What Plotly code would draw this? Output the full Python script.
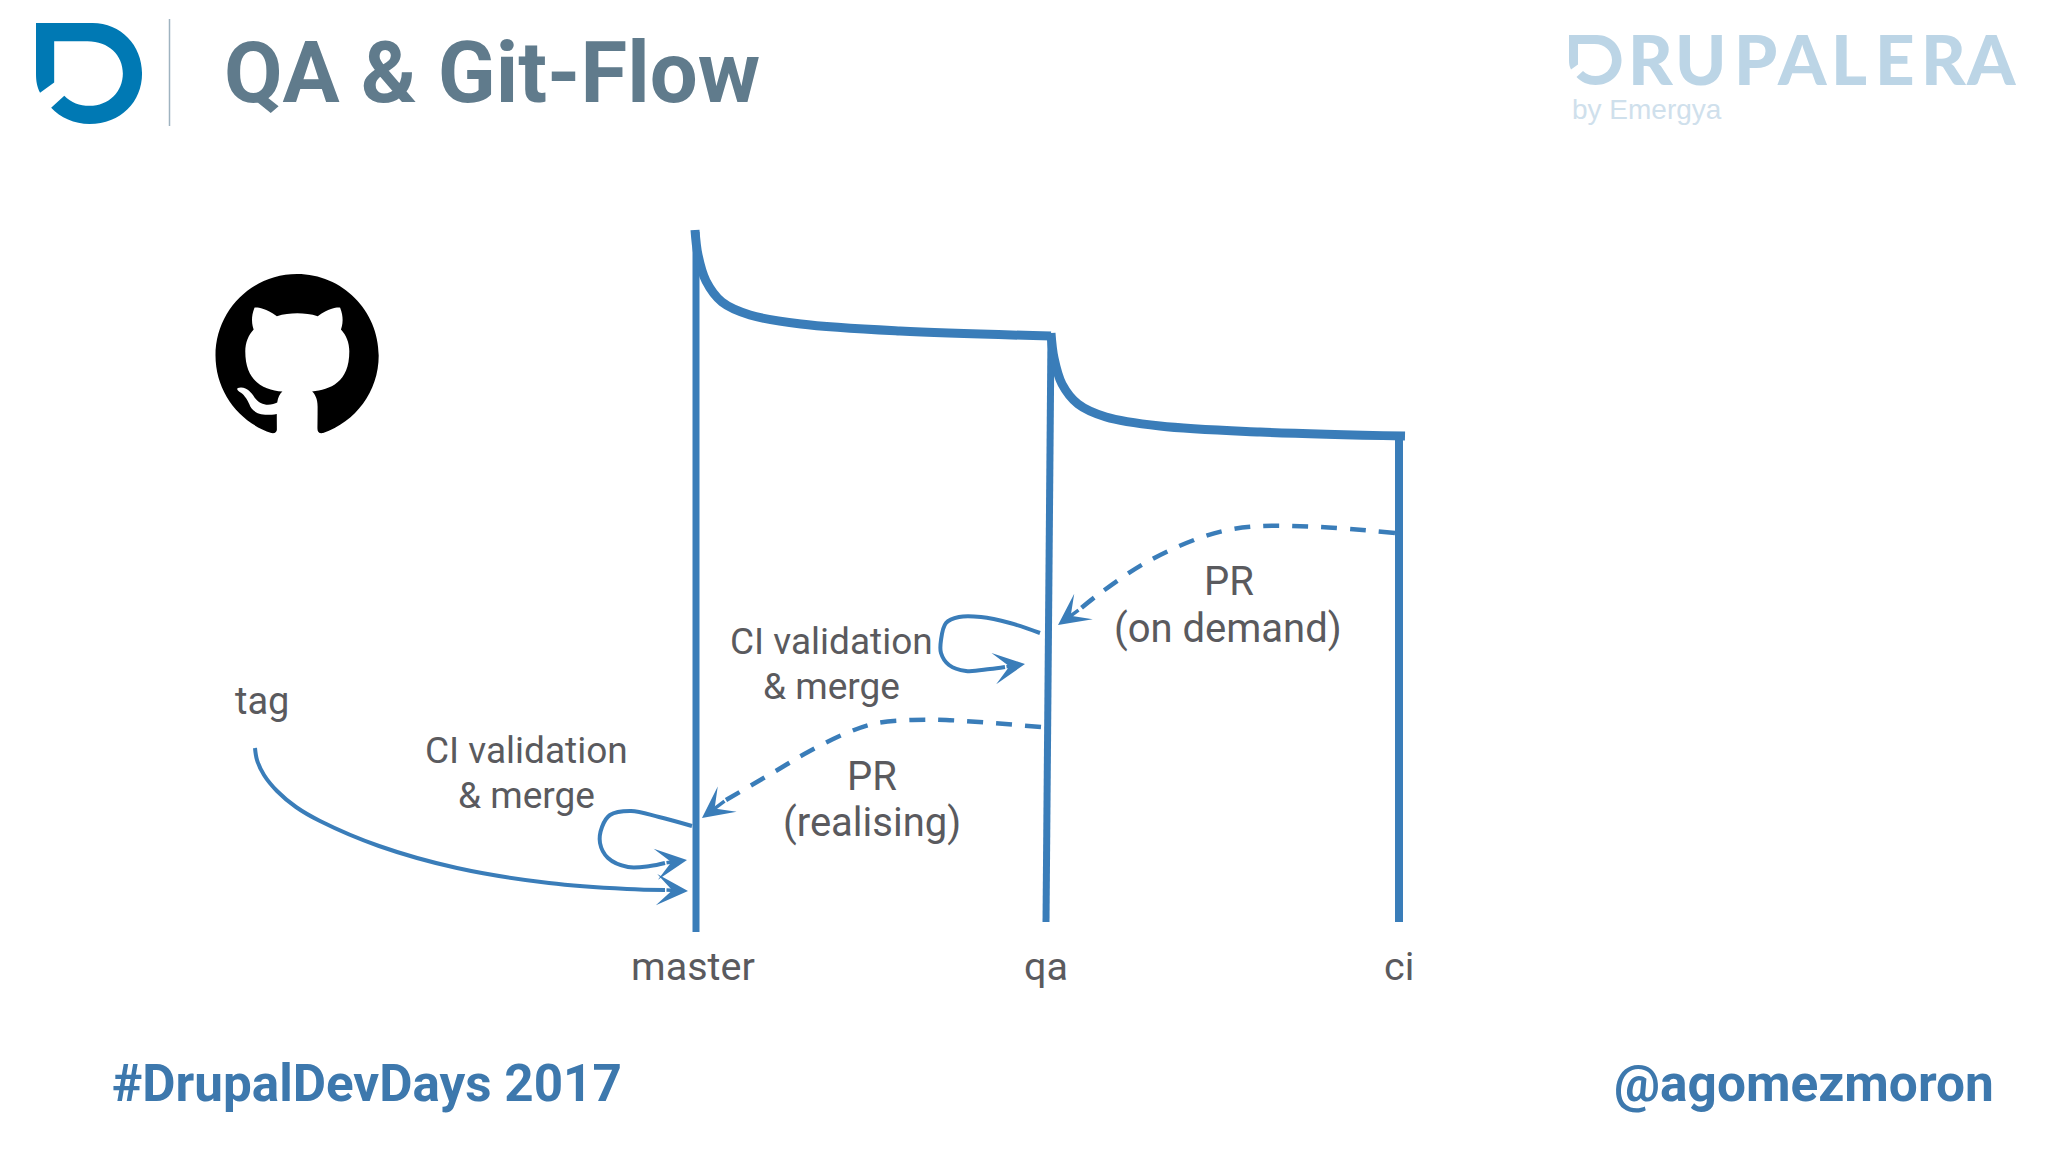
import re
import plotly.graph_objects as go

BLUE = '#3a7db9'
GREY = '#5a5a5e'

# branch lines (pixels of the slide)
master_x = [696, 696]
master_y = [232, 932]
qa_x = [1051, 1046]
qa_y = [333, 922]
ci_x = [1399, 1399]
ci_y = [435, 922]

# curves from one branch to the next
master_qa_x = [695, 698, 706, 722, 750, 801, 900, 1051]
master_qa_y = [230, 255, 281, 302, 315, 324, 331, 336]
qa_ci_x = [1051, 1054, 1062, 1078, 1106, 1160, 1260, 1405]
qa_ci_y = [333, 358, 384, 404, 417, 426, 432, 436]

# arrows, the last point is the tip
pr_demand_x = [1395, 1320, 1262, 1228, 1194, 1145, 1099, 1080, 1058]
pr_demand_y = [533, 527, 526, 530, 540, 563, 594, 609, 625]
pr_real_x = [1041, 946, 912, 877, 849, 808, 774, 726, 702]
pr_real_y = [727, 720, 720, 723, 732, 752, 772, 800, 818]
loop_qa_x = [1040, 1010, 981, 959, 946, 941, 941, 949, 966, 990, 1005, 1025]
loop_qa_y = [633, 623, 617, 617, 623, 640, 653, 665, 671, 669, 667, 664]
loop_master_x = [692, 659, 631, 610, 602, 600, 608, 628, 650, 665, 687]
loop_master_y = [826, 817, 811, 815, 827, 843, 858, 867, 866, 863, 860]
tag_x = [255, 257, 264, 277, 296, 320, 379, 457, 549, 627, 665, 688]
tag_y = [748, 760, 775, 791, 807, 821, 846, 868, 883, 889, 890, 891]

# labels
label_text = ['tag', 'master', 'qa', 'ci', 'CI validation', '& merge', 'CI validation', '& merge',
              'PR', '(on demand)', 'PR', '(realising)']
label_x = [262, 693, 1046, 1399, 526, 526, 831, 831, 1229, 1228, 872, 872]
label_y = [701, 966, 966, 966, 750, 795, 641, 686, 581, 628, 776, 822]
label_size = [38, 39.5, 39.5, 39.5, 37, 37, 37, 37, 40, 40, 40, 40]

# DRUPALERA letters next to the small D
brand_letters = ['R', 'U', 'P', 'A', 'L', 'E', 'R', 'A']
brand_x = [1651, 1700, 1755, 1802, 1849, 1895, 1944, 1991]

d_logo = ('M0 0L56 0C84 0 105 22 105 50C105 78 84 100 53 100C38 100 24 94 15 84L28 72'
          'C35 79 43 82 53 82C72 82 86 68 86 50C86 32 72 18 51 18L18 18L18 59L4 69C1 63 0 58 0 50Z')
github_logo = ('M8 0C3.58 0 0 3.58 0 8c0 3.54 2.29 6.53 5.47 7.59.4.07.55-.17.55-.38 0-.19-.01-.82-.01-1.49'
               '-2.01.37-2.53-.49-2.69-.94-.09-.23-.48-.94-.82-1.13-.28-.15-.68-.52-.01-.53.63-.01 1.08.58 1.23.82'
               '.72 1.21 1.87.87 2.33.66.07-.52.28-.87.51-1.07-1.78-.2-3.64-.89-3.64-3.95 0-.87.31-1.59.82-2.15'
               '-.08-.2-.36-1.02.08-2.12 0 0 .67-.21 2.2.82.64-.18 1.32-.27 2-.27.68 0 1.36.09 2 .27 1.53-1.04 2.2-.82 2.2-.82'
               '.44 1.1.16 1.92.08 2.12.51.56.82 1.27.82 2.15 0 3.07-1.87 3.75-3.65 3.95.29.25.54.73.54 1.48'
               ' 0 1.07-.01 1.93-.01 2.2 0 .21.15.46.55.38C13.71 14.53 16 11.54 16 8c0-4.42-3.58-8-8-8z')


def place_path(path, scale, ox, oy):
    # shapes only take absolute commands, so relative ones get resolved here
    out = []
    cx, cy = 0.0, 0.0
    for cmd, args in re.findall(r'([MLCcZz])([^MLCcZz]*)', path):
        nums = [float(n) for n in re.findall(r'-?\d*\.?\d+', args)]
        if cmd in 'Zz':
            out.append('Z')
            continue
        size = 6 if cmd in 'Cc' else 2
        for i in range(0, len(nums), size):
            seg = nums[i:i + size]
            if cmd == 'c':
                seg = [v + (cy if k % 2 else cx) for k, v in enumerate(seg)]
            cx, cy = seg[-2], seg[-1]
            pts = [(ox + v * scale) if k % 2 == 0 else (oy + v * scale) for k, v in enumerate(seg)]
            out.append(cmd.upper() + ' '.join(f'{p:.2f}' for p in pts))
    return ''.join(out)


fig = go.Figure()

for xs, ys, w in [(master_x, master_y, 7), (qa_x, qa_y, 7), (ci_x, ci_y, 8)]:
    fig.add_trace(go.Scatter(x=xs, y=ys, mode='lines', line=dict(color=BLUE, width=w), hoverinfo='skip'))
for xs, ys in [(master_qa_x, master_qa_y), (qa_ci_x, qa_ci_y)]:
    fig.add_trace(go.Scatter(x=xs, y=ys, mode='lines', line=dict(color=BLUE, width=9, shape='spline'), hoverinfo='skip'))

arrows = [(pr_demand_x, pr_demand_y, '16px,13px', 4.5), (pr_real_x, pr_real_y, '16px,13px', 4.5),
          (loop_qa_x, loop_qa_y, 'solid', 4), (loop_master_x, loop_master_y, 'solid', 4),
          (tag_x, tag_y, 'solid', 4)]
for xs, ys, dash, w in arrows:
    fig.add_trace(go.Scatter(x=xs[:-1], y=ys[:-1], mode='lines',
                             line=dict(color=BLUE, width=w, dash=dash, shape='spline'), hoverinfo='skip'))
    fig.add_annotation(x=xs[-1], y=ys[-1], ax=xs[-2], ay=ys[-2], axref='x', ayref='y', xref='x', yref='y',
                       text='', showarrow=True, arrowhead=3, arrowsize=1.5, arrowwidth=3.5,
                       arrowcolor=BLUE, standoff=0, startstandoff=0)

for t, x, y, s in zip(label_text, label_x, label_y, label_size):
    fig.add_annotation(x=x, y=y, text=t, showarrow=False,
                       font=dict(family='Roboto', size=s, color=GREY, weight=400))

# header and footer
fig.add_annotation(x=222, y=73, text='QA & Git-Flow', showarrow=False, xanchor='left',
                   font=dict(family='Roboto', size=85, color='#607b8c', weight=700))
fig.add_annotation(x=110, y=1083, text='#DrupalDevDays 2017', showarrow=False, xanchor='left',
                   font=dict(family='Roboto', size=51.2, color='#3d78ad', weight=700))
fig.add_annotation(x=1996, y=1083, text='@agomezmoron', showarrow=False, xanchor='right',
                   font=dict(family='Roboto', size=51.4, color='#3d78ad', weight=700))
fig.add_annotation(x=1570, y=109, text='by Emergya', showarrow=False, xanchor='left',
                   font=dict(family='Liberation Sans', size=28, color='#cfe0ec'))
for t, x in zip(brand_letters, brand_x):
    fig.add_annotation(x=x, y=58, text=t, showarrow=False,
                       font=dict(family='Lato', size=69, color='#bcd5e6', weight=900))

fig.add_shape(type='path', path=place_path(d_logo, 1.01, 36, 23), fillcolor='#0079b4', line_width=0)
fig.add_shape(type='path', path=place_path(d_logo, 0.5, 1569, 35), fillcolor='#bcd5e6', line_width=0)
fig.add_shape(type='path', path=place_path(github_logo, 10.2, 215.5, 274), fillcolor='black', line_width=0)
fig.add_shape(type='line', x0=169.5, x1=169.5, y0=19, y1=126, line=dict(color='#9fb3c0', width=1.5))

fig.update_xaxes(visible=False, range=[0, 2048], fixedrange=True)
fig.update_yaxes(visible=False, range=[1152, 0], fixedrange=True)
fig.update_layout(width=2048, height=1152, margin=dict(l=0, r=0, t=0, b=0), showlegend=False,
                  paper_bgcolor='white', plot_bgcolor='white')

fig.write_html("out.html", post_script="document.body.style.margin='0';", config=dict(displayModeBar=False))
